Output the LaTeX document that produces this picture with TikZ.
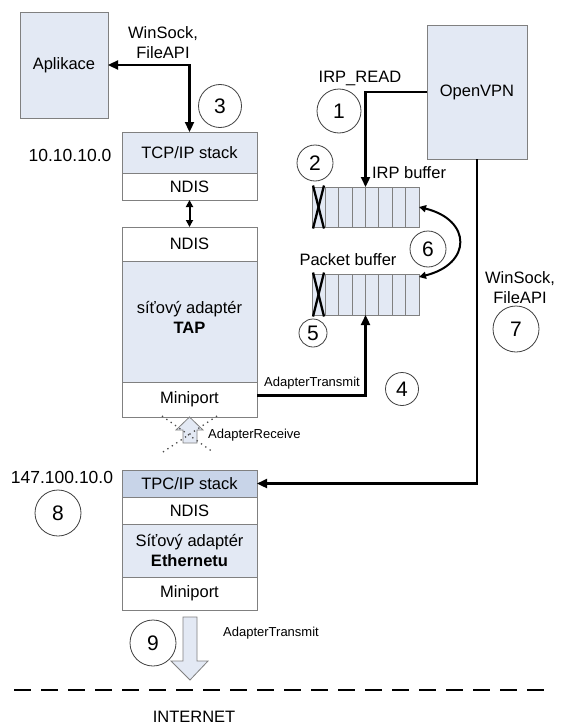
\documentclass[tikz,border=0pt]{standalone}
\usepackage{fontspec}
\setmainfont{Liberation Sans}
\usetikzlibrary{arrows.meta}
\definecolor{lb}{RGB}{227,233,244}
\definecolor{mb}{RGB}{200,212,232}
\definecolor{bd}{RGB}{128,128,128}
\newcommand\fmain{\fontsize{16.5}{20}\selectfont}
\newcommand\fip{\fontsize{17.5}{20}\selectfont}
\newcommand\fsmall{\fontsize{13}{15}\selectfont}
\newcommand\fnum{\fontsize{21}{24}\selectfont}
\begin{document}
\begin{tikzpicture}[x=1pt,y=-1pt,
  box/.style={draw=bd, line width=0.9pt, minimum width=135pt, inner sep=0pt, outer sep=0pt, font=\fmain},
  conn/.style={line width=2.3pt, black},
  tri/.tip={Triangle[length=10pt,width=9pt]},
  stri/.tip={Triangle[length=7pt,width=7pt]},
  num/.style={circle, draw=black!75, line width=0.8pt, inner sep=0pt, font=\fnum},
  lbl/.style={font=\fmain, inner sep=0pt, align=center},
  xmark/.style={line width=2.3pt, black},
  dotline/.style={line width=1.3pt, black!70, dash pattern=on 1.3pt off 4pt},
  blockarrow/.style={draw=bd, fill=lb, line width=0.8pt}
]
\useasboundingbox (0,0) rectangle (560,725);
\fill[white] (0,0) rectangle (560,725);

% boxes
\node[box, fill=lb, minimum width=88pt, minimum height=106pt] (apl) at (64,65) {Aplikace};
\node[box, fill=lb, minimum width=100pt, minimum height=134pt] (vpn) at (477,92) {OpenVPN};

\node[box, fill=lb, minimum height=41pt] (tcp) at (189.5,152.5) {TCP/IP stack};
\node[box, fill=white, minimum height=27pt] (ndisa) at (189.5,186.5) {NDIS};

\node[box, fill=white, minimum height=34pt] (ndisb) at (189.5,244) {NDIS};
\node[box, fill=lb, minimum height=121pt] (tap) at (189.5,321.5) {};
\node[lbl] (tapt) at (189.5,317.5) {síťový adaptér\\\textbf{TAP}};
\node[box, fill=white, minimum height=35pt] (minia) at (189.5,399.5) {Miniport};

\node[box, fill=mb, minimum height=27pt] (tpc) at (189.5,483.5) {TPC/IP stack};
\node[box, fill=white, minimum height=27pt] (ndisc) at (189.5,510.5) {NDIS};
\node[box, fill=lb, minimum height=53pt, align=center] (eth) at (189.5,550.5) {Síťový adaptér\\\textbf{Ethernetu}};
\node[box, fill=white, minimum height=33pt] (minib) at (189.5,593.5) {Miniport};

% buffers
\node[box, fill=lb, minimum width=107pt, minimum height=40pt] (irp) at (365.5,207) {};
\node[box, fill=lb, minimum width=107pt, minimum height=41pt] (pkt) at (365.5,294.5) {};
\foreach \b in {irp,pkt}{
  \foreach \i in {1,...,7}{
    \draw[bd, line width=0.9pt] ([xshift=\i*13.375pt]\b.north west) -- ([xshift=\i*13.375pt]\b.south west);
  }
  \draw[xmark] ([xshift=1pt,yshift=1.5pt]\b.north west) -- ([xshift=12pt,yshift=-1.5pt]\b.south west);
  \draw[xmark] ([xshift=12pt,yshift=1.5pt]\b.north west) -- ([xshift=1pt,yshift=-1.5pt]\b.south west);
}

% connectors
\draw[conn, {tri}-{tri}] (apl.east) -| (tcp.north);
\draw[conn, line width=2pt, {stri}-{stri}] (ndisa.south) -- (ndisb.north);
\draw[conn, -{tri}] (vpn.west) -| (irp.north);
\draw[conn, -{tri}] ([yshift=4pt]minia.east) -| (pkt.south);
\draw[conn, line width=2pt, {stri}-{stri}] (irp.east) .. controls (472,220) and (472,264) .. ([yshift=-3pt]pkt.north east);
\draw[conn, -{tri}] (vpn.south) |- (tpc.east);

% block arrows
\draw[blockarrow] (minia.south) -- (203,430) -- (197,430) -- (197,443) -- (183,443) -- (183,430) -- (176,430) -- cycle;
\draw[dotline] (162,416) -- (213,452);
\draw[dotline] (217,416) -- (163,452);
\draw[blockarrow] (183,617) -- (197,617) -- (197,661) -- (208,661) -- (190,680) -- (171,661) -- (183,661) -- cycle;

% internet line
\draw[line width=2pt, dash pattern=on 17pt off 10pt] (14,690) -- (550,690);

% labels
\node[lbl] (ws1) at (163,43) {WinSock,\\FileAPI};
\node[lbl, font=\fip] (ip1) at (70,155) {10.10.10.0};
\node[lbl] (irpr) at (360,78) {IRP\_READ};
\node[lbl] (irpl) at (409,173) {IRP buffer};
\node[lbl] (pktl) at (348,260) {Packet buffer};
\node[lbl] (ws2) at (520,287.5) {WinSock,\\FileAPI};
\node[lbl, font=\fsmall] (at1) at (312,383) {AdapterTransmit};
\node[lbl, font=\fsmall, anchor=west] (ar) at (208,435) {AdapterReceive};
\node[lbl, font=\fip] (ip2) at (62,477) {147.100.10.0};
\node[lbl, font=\fsmall] (at2) at (271,633) {AdapterTransmit};
\node[lbl] (inet) at (194,717) {INTERNET};

% numbered circles
\node[num, minimum size=44pt] (n1) at (339,111) {1};
\node[num, minimum size=36pt] (n2) at (315,163) {2};
\node[num, minimum size=43pt] (n3) at (220,106) {3};
\node[num, minimum size=33pt] (n4) at (402,389) {4};
\node[num, minimum size=28pt] (n5) at (313,333) {5};
\node[num, minimum size=36pt] (n6) at (428,249) {6};
\node[num, minimum size=46pt] (n7) at (516,329) {7};
\node[num, minimum size=46pt] (n8) at (58,513) {8};
\node[num, minimum size=46pt] (n9) at (153,643) {9};
\end{tikzpicture}
\end{document}
